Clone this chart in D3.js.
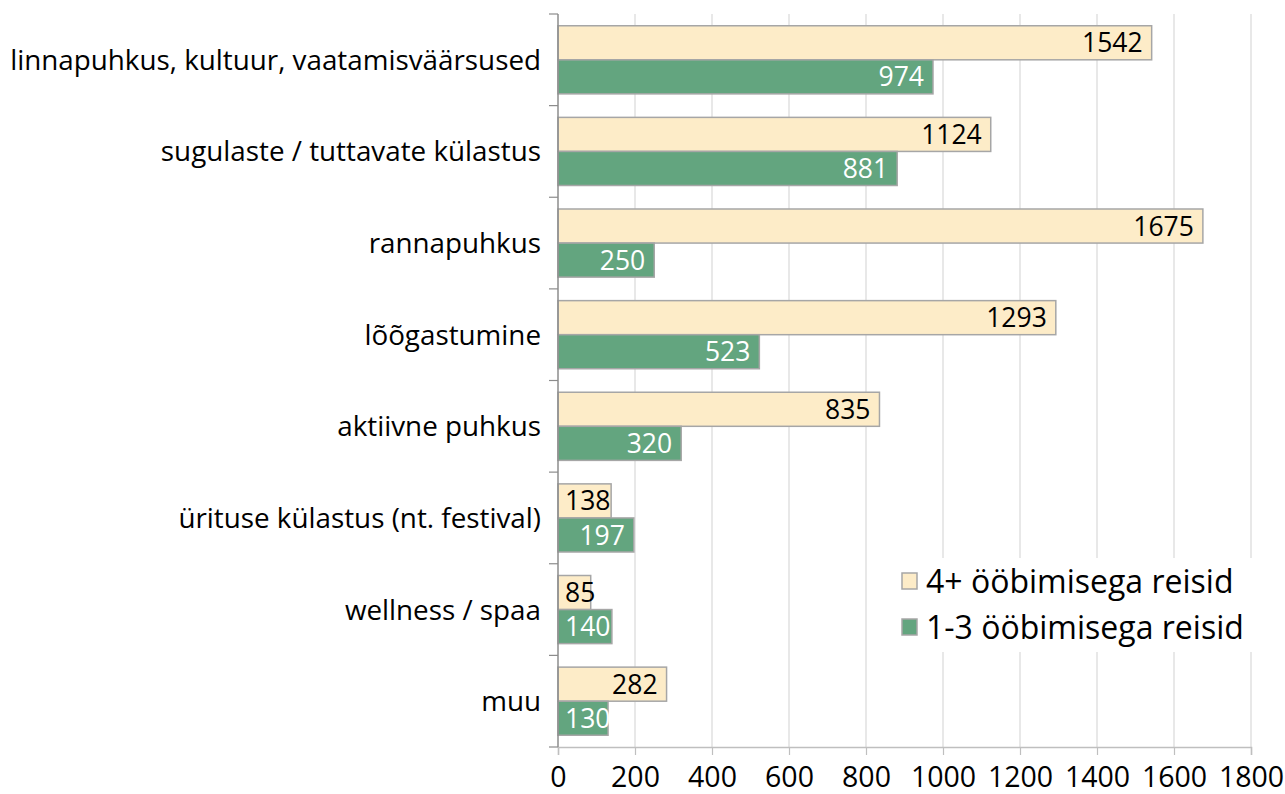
<!DOCTYPE html>
<html><head><meta charset="utf-8">
<script src="https://cdn.jsdelivr.net/npm/d3@7"></script>
<style>body{margin:0;background:#fff}svg{display:block;font-family:"Open Sans",sans-serif}</style>
</head><body><svg id="c" width="1285" height="794"></svg>
<script>
const categories = ["linnapuhkus, kultuur, vaatamisväärsused","sugulaste / tuttavate külastus","rannapuhkus","lõõgastumine","aktiivne puhkus","ürituse külastus (nt. festival)","wellness / spaa","muu"];
const seriesNames = ["4+ ööbimisega reisid","1-3 ööbimisega reisid"];
const long = [1542,1124,1675,1293,835,138,85,282];
const short = [974,881,250,523,320,197,140,130];
const xTicks = [0,200,400,600,800,1000,1200,1400,1600,1800];
const titleText = "(tuh)";

const colors = ["#fdecc8","#63a57f"];
const labelColors = ["#000","#fff"];
const svg = d3.select("#c");
const x = d3.scaleLinear().domain([0,1800]).range([558,1251]);
const y = d3.scaleBand().domain(categories).range([14,747]);
const ys = d3.scaleBand().domain(seriesNames).range([0,y.bandwidth()]).paddingOuter(0.345);

svg.append("text").attr("x",957).attr("y",-5).attr("text-anchor","end").attr("font-size",28).text(titleText);

// gridlines
svg.append("g").selectAll("line").data(xTicks.slice(1)).join("line")
  .attr("x1",d=>x(d)).attr("x2",d=>x(d)).attr("y1",14).attr("y2",747)
  .attr("stroke","#d9d9d9").attr("stroke-width",1.2);

// bottom axis
const xa = svg.append("g").attr("transform","translate(0,747)")
  .call(d3.axisBottom(x).tickValues(xTicks).tickFormat(d3.format("d")).tickSize(8).tickPadding(11));
xa.select(".domain").attr("stroke","#bfbfbf").attr("stroke-width",1.5);
xa.selectAll(".tick line").attr("stroke","#bfbfbf").attr("stroke-width",1.2);
xa.selectAll("text").attr("font-size",28.5).attr("font-family","Open Sans").attr("fill","#000").attr("dy","0.72em");

// bars
const data = categories.map((c,i)=>({c, vals:[long[i],short[i]]}));
const g = svg.append("g");
data.forEach(d=>{
  d.vals.forEach((v,j)=>{
    const s = seriesNames[j];
    const y0 = y(d.c)+ys(s);
    g.append("rect").attr("x",x(0)).attr("y",y0).attr("width",x(v)-x(0)).attr("height",ys.bandwidth())
      .attr("fill",colors[j]).attr("stroke","#a6a6a6").attr("stroke-width",1.5);
  });
});
// labels
data.forEach(d=>{
  d.vals.forEach((v,j)=>{
    const s = seriesNames[j];
    const cy = y(d.c)+ys(s)+ys.bandwidth()/2;
    const t = svg.append("text").attr("y",cy).attr("dy","0.36em").attr("font-size",26.5)
      .attr("fill",labelColors[j]).text(v);
    const w = t.node().getComputedTextLength();
    const bw = x(v)-x(0);
    if (w+16 > bw) t.attr("x",x(0)+7).attr("text-anchor","start");
    else t.attr("x",x(v)-9).attr("text-anchor","end");
  });
});

// left axis
const ya = svg.append("g").attr("transform","translate(558,0)");
ya.append("line").attr("x1",0).attr("x2",0).attr("y1",14).attr("y2",747).attr("stroke","#8c8c8c").attr("stroke-width",1.5);
const bounds = categories.map(c=>y(c)).concat([747]);
ya.selectAll("line.t").data(bounds).join("line").attr("class","t")
  .attr("x1",-9).attr("x2",0).attr("y1",d=>d).attr("y2",d=>d).attr("stroke","#8c8c8c").attr("stroke-width",1.2);
svg.append("g").selectAll("text").data(categories).join("text")
  .attr("x",541).attr("y",d=>y(d)+y.bandwidth()/2).attr("dy","0.36em").attr("text-anchor","end")
  .attr("font-size",27.8).text(d=>d);

// legend
const lg = svg.append("g");
lg.append("rect").attr("x",890).attr("y",558).attr("width",372).attr("height",94).attr("fill","#fff");
seriesNames.forEach((s,j)=>{
  const cy = 581 + j*46;
  lg.append("rect").attr("x",902).attr("y",cy-8).attr("width",15).attr("height",16)
    .attr("fill",colors[j]).attr("stroke","#a6a6a6").attr("stroke-width",1.5);
  lg.append("text").attr("x",926).attr("y",cy).attr("dy","0.36em").attr("font-size",32).text(s);
});
</script></body></html>
